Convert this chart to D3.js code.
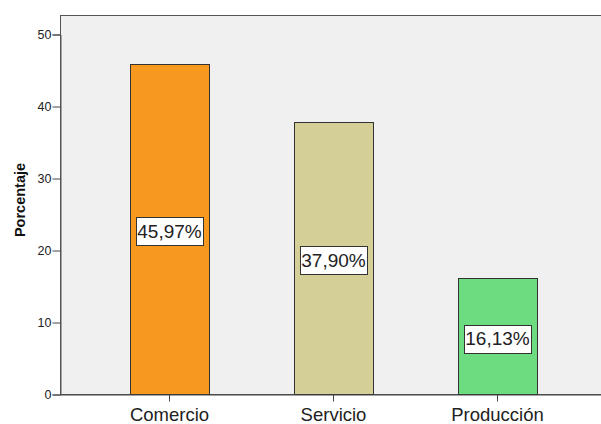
<!DOCTYPE html>
<html>
<head>
<meta charset="utf-8">
<script src="https://cdn.jsdelivr.net/npm/d3@7"></script>
<style>
  html, body { margin: 0; padding: 0; background: #fff; }
  svg { display: block; }
  text { font-family: "Liberation Sans", Arial, sans-serif; }
</style>
</head>
<body>
<svg id="chart" width="601" height="424"></svg>
<script>
const categories = ["Comercio", "Servicio", "Producción"];
const values = [45.97, 37.90, 16.13];
const valueLabels = ["45,97%", "37,90%", "16,13%"];
const colors = ["#f7981f", "#d3cf97", "#6ddb80"];
const yTicks = [0, 10, 20, 30, 40, 50];
const yTitle = "Porcentaje";

const svg = d3.select("#chart");
const W = 601, H = 424;

const y = d3.scaleLinear().domain([0, 50]).range([394.5, 34.5]);
const x = d3.scaleBand().domain(categories).range([87.5, 579.5]).padding(0);
const barW = 79;

const plotLeft = 60.5, plotTop = 15.5, plotRight = 640, plotBottom = y(0);

svg.append("rect")
  .attr("x", plotLeft).attr("y", plotTop)
  .attr("width", plotRight - plotLeft).attr("height", plotBottom - plotTop)
  .attr("fill", "#f0f0f0")
  .attr("stroke", "#555").attr("stroke-width", 1);

svg.selectAll("rect.bar").data(categories).enter().append("rect")
  .attr("class", "bar")
  .attr("x", d => Math.round(x(d) + x.bandwidth() / 2 - barW / 2) + 0.5)
  .attr("y", (d, i) => Math.round(y(values[i])) + 0.5)
  .attr("width", barW)
  .attr("height", (d, i) => y(0) - Math.round(y(values[i])) - 0.5)
  .attr("fill", (d, i) => colors[i])
  .attr("stroke", "#333").attr("stroke-width", 1);

const yAxis = d3.axisLeft(y).tickValues(yTicks).tickSize(8).tickPadding(1).tickFormat(d3.format("d"));
const gy = svg.append("g").attr("transform", `translate(${plotLeft},0)`).call(yAxis);
gy.select(".domain").attr("stroke", "#555");
gy.selectAll(".tick line").attr("stroke", "#444");
gy.selectAll(".tick text").attr("font-size", 12.5).attr("fill", "#222")
  .attr("font-family", "'Liberation Sans', Arial, sans-serif");

const xAxis = d3.axisBottom(x).tickSize(7).tickPadding(6).tickSizeOuter(0);
const gx = svg.append("g").attr("transform", `translate(0,${plotBottom})`).call(xAxis);
gx.select(".domain").attr("d", `M${plotLeft},0.5H${W}`).attr("stroke", "#444");
gx.selectAll(".tick line").attr("stroke", "#444");
gx.selectAll(".tick text").attr("font-size", 18.5).attr("fill", "#222")
  .attr("font-family", "'Liberation Sans', Arial, sans-serif");

svg.append("text")
  .attr("transform", `translate(25,200) rotate(-90)`)
  .attr("text-anchor", "middle")
  .attr("font-size", 14.5).attr("font-weight", "bold").attr("fill", "#111")
  .text(yTitle);

categories.forEach((c, i) => {
  const cx = x(c) + x.bandwidth() / 2;
  const cy = (y(values[i]) + y(0)) / 2 + 2.3;
  const g = svg.append("g");
  g.append("rect")
    .attr("x", Math.round(cx - 33.5) + 0.5)
    .attr("y", Math.round(cy - 14) + 0.5)
    .attr("width", 67).attr("height", 28)
    .attr("fill", "#fff").attr("stroke", "#333").attr("stroke-width", 1);
  g.append("text")
    .attr("x", cx).attr("y", cy)
    .attr("text-anchor", "middle").attr("dominant-baseline", "central")
    .attr("font-size", 19).attr("fill", "#222")
    .text(valueLabels[i]);
});
</script>
</body>
</html>
